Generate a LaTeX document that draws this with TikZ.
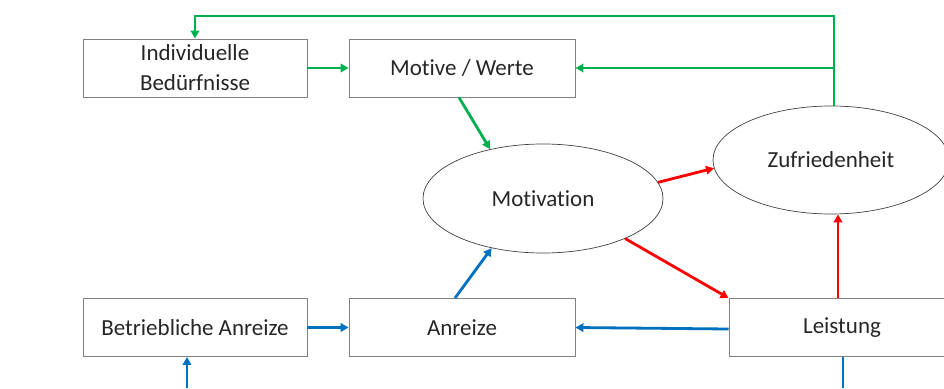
\documentclass[tikz,border=0pt]{standalone}
\usepackage{fontspec}
\setmainfont{Carlito}[Ligatures=NoCommon]
\usetikzlibrary{shapes.geometric,arrows.meta}
\definecolor{cgreen}{HTML}{00B050}
\definecolor{cred}{HTML}{FF0000}
\definecolor{cblue}{HTML}{0070C0}
\definecolor{cgray}{HTML}{808080}
\tikzset{
  box/.style={draw=cgray, line width=0.9pt, rectangle, minimum width=224pt, minimum height=58pt, inner sep=0pt, align=center, text=black!85},
  oval/.style={draw=black!75, line width=0.7pt, ellipse, inner sep=0pt, text=black!85},
  conn/.style={line width=2.8pt, -{Triangle[length=8pt,width=8.5pt]}},
  plain/.style={line width=2.8pt},
}
\begin{document}
\begin{tikzpicture}[x=1pt,y=-1pt,font=\fontsize{23}{30}\selectfont]
\useasboundingbox (0,0) rectangle (944,388);
\clip (0,0) rectangle (944,388);
\node[box] (ind) at (195,68) {Individuelle\\Bedürfnisse};
\node[box, minimum width=226pt] (mot) at (462,68) {Motive / Werte};
\node[box] (betr) at (195,327.5) {Betriebliche Anreize};
\node[box, minimum width=226pt] (anr) at (462,327.5) {Anreize};
\node[box, minimum width=226pt] (lei) at (842,327.5) {Leistung};
\node[oval, minimum width=240pt, minimum height=109pt] (motv) at (543,198.5) {Motivation};
\node[oval, minimum width=236pt, minimum height=108pt] (zuf) at (831,160) {Zufriedenheit};
\coordinate (top) at (0,16);
\coordinate (gx) at (834,0);
\coordinate (bin) at (187,388);
\coordinate (bout) at (843,388);
% green
\draw[conn, cgreen] (zuf.north -| gx) -- (gx |- top) -| (ind.north);
\draw[conn, cgreen] (gx |- mot.east) -- (mot.east);
\draw[conn, cgreen] (ind.east) -- (mot.west);
\draw[conn, cgreen] ([xshift=-3pt]mot.south) -- (motv.137);
% red
\draw[conn, cred] (motv.8) -- (zuf.184);
\draw[conn, cred] (motv.334) -- (lei.north west);
\draw[conn, cred] ([xshift=-4pt]lei.north) -- ([xshift=-4pt]lei.north |- zuf.south);
% blue
\draw[conn, cblue] ([xshift=-7pt]anr.north) -- (motv.224);
\draw[conn, cblue] (betr.east) -- (anr.west);
\draw[conn, cblue] ([yshift=-1.5pt]lei.west) -- (anr.east);
\draw[conn, cblue] (bin) -- (bin |- betr.south);
\draw[plain, cblue] (lei.south -| bout) -- (bout);
\end{tikzpicture}
\end{document}
